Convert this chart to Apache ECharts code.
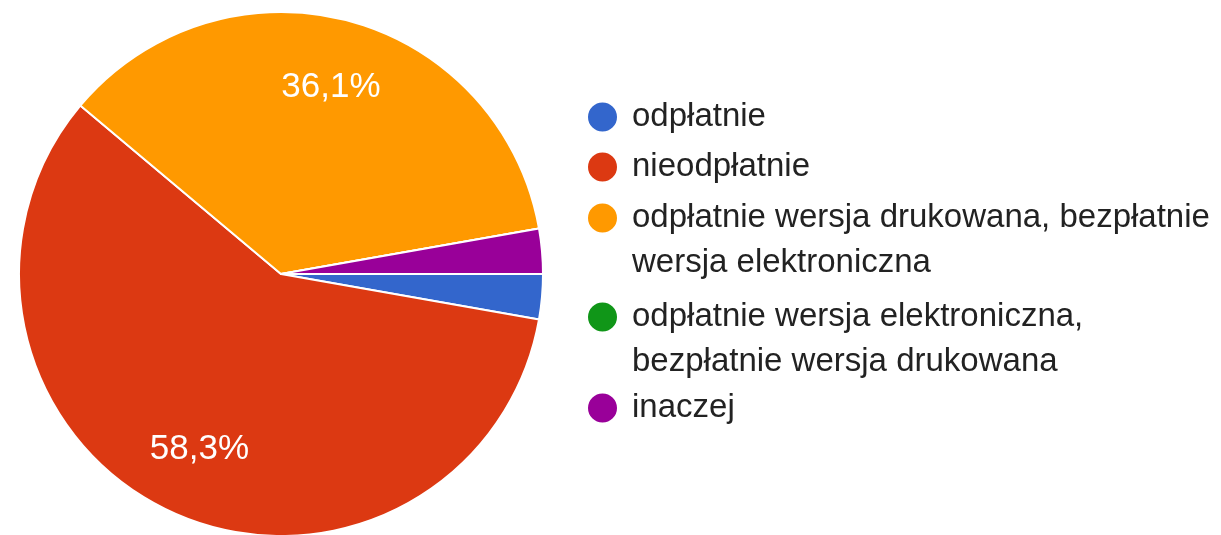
<!DOCTYPE html>
<html>
<head>
<meta charset="utf-8">
<script src="https://cdn.jsdelivr.net/npm/echarts@6/dist/echarts.min.js"></script>
<style>
  html, body { margin: 0; padding: 0; background: #fff; }
  #magicEchart { width: 1221px; height: 535px; }
</style>
</head>
<body>
<div id="magicEchart"></div>
<script>
  var categories = [
    'odpłatnie',
    'nieodpłatnie',
    'odpłatnie wersja drukowana, bezpłatnie wersja elektroniczna',
    'odpłatnie wersja elektroniczna, bezpłatnie wersja drukowana',
    'inaczej'
  ];
  var counts = [1, 21, 13, 0, 1];
  var colors = ['#3366cc', '#dc3912', '#ff9900', '#109618', '#990099'];

  // legend layout: icon centre y and how many words go on the first line (0 = no wrap)
  var legendCenters = [117, 167, 218, 317, 408];
  var legendWrapWords = [0, 0, 4, 3, 0];
  var lineH = 45;
  var fontName = '"Liberation Sans", Arial, sans-serif';

  var pieData = categories.map(function (name, i) {
    return { name: name, value: counts[i], itemStyle: { color: colors[i] } };
  });

  var legends = categories.map(function (name, i) {
    var k = legendWrapWords[i];
    // wrapped entries get an empty first line so the icon sits on the first text line
    var top = k > 0 ? legendCenters[i] - 1.5 * lineH : legendCenters[i] - lineH / 2;
    return {
      orient: 'vertical',
      left: 586,
      top: top,
      padding: 0,
      itemWidth: 31,
      itemHeight: 31,
      icon: 'circle',
      selectedMode: false,
      formatter: function (s) {
        if (!k) return s;
        var w = s.split(' ');
        return '\n' + w.slice(0, k).join(' ') + '\n' + w.slice(k).join(' ');
      },
      textStyle: {
        fontFamily: fontName,
        fontSize: 33,
        color: '#222',
        lineHeight: lineH,
        padding: [0, 0, 0, 9]
      },
      data: [name]
    };
  });

  var chart = echarts.init(document.getElementById('magicEchart'));
  var option = {
    backgroundColor: '#fff',
    animation: false,
    legend: legends,
    series: [
      {
        name: 'main',
        type: 'pie',
        center: [281, 274],
        radius: [0, 262],
        startAngle: 0,
        clockwise: true,
        avoidLabelOverlap: false,
        label: { show: false },
        labelLine: { show: false },
        itemStyle: { borderColor: '#fff', borderWidth: 2 },
        emphasis: { disabled: true },
        data: pieData
      },
      {
        // transparent ring only used to place the percent labels further out
        name: 'labels',
        type: 'pie',
        center: [281, 274],
        radius: [118, 262],
        startAngle: 0,
        clockwise: true,
        silent: true,
        z: 3,
        avoidLabelOverlap: false,
        labelLine: { show: false },
        itemStyle: { color: 'rgba(0,0,0,0)', borderWidth: 0 },
        emphasis: { disabled: true },
        label: {
          show: true,
          position: 'inside',
          color: '#fff',
          fontFamily: fontName,
          fontSize: 35,
          formatter: function (p) {
            if (p.percent < 5) return '';
            return p.percent.toFixed(1).replace('.', ',') + '%';
          }
        },
        data: categories.map(function (name, i) {
          return { name: name, value: counts[i] };
        })
      }
    ]
  };
  chart.setOption(option);
</script>
</body>
</html>
